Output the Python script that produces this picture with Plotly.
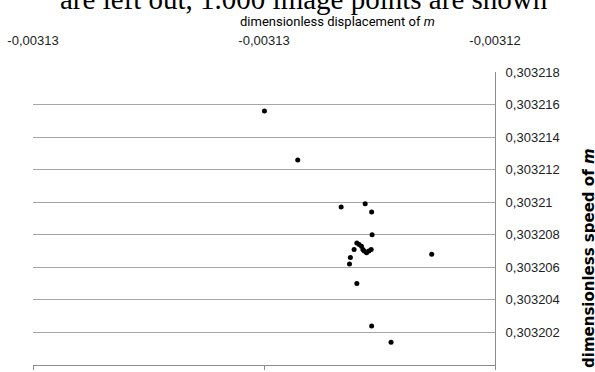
import plotly.graph_objects as go

# data (dimensionless displacement, dimensionless speed)
disp = [-0.00312499, -0.00312427, -0.00312333, -0.00312281, -0.00312267,
        -0.00312266, -0.00312137, -0.00312313, -0.00312315, -0.00312305,
        -0.00312299, -0.00312294, -0.00312289, -0.00312286, -0.00312283,
        -0.00312278, -0.00312273, -0.00312268, -0.00312299, -0.00312267,
        -0.00312225]
speed = [0.3032156, 0.3032126, 0.3032097, 0.3032099, 0.3032094,
         0.3032080, 0.3032068, 0.3032066, 0.3032062, 0.3032071,
         0.3032075, 0.3032074, 0.3032073, 0.3032071, 0.3032070,
         0.3032069, 0.3032070, 0.3032071, 0.3032050, 0.3032024,
         0.3032014]

x_tickvals = [-0.00313, -0.003125, -0.00312]
x_ticktext = ["-0,00313", "-0,00313", "-0,00312"]
y_tickvals = [0.3032, 0.303202, 0.303204, 0.303206, 0.303208,
              0.30321, 0.303212, 0.303214, 0.303216, 0.303218]
y_ticktext = ["0,3032", "0,303202", "0,303204", "0,303206", "0,303208",
              "0,30321", "0,303212", "0,303214", "0,303216", "0,303218"]

title_text = "are left out, 1.000 image points are shown"
x_title = "dimensionless displacement of <i>m</i>"
y_title = "dimensionless speed of <i>m</i>"

GRID = "#a6a6a6"
AXIS = "#8c8c8c"

fig = go.Figure()
fig.add_trace(go.Scatter(
    x=disp, y=speed, mode="markers",
    marker=dict(color="black", size=5, symbol="circle"),
    showlegend=False, cliponaxis=False,
))
# invisible trace to enable the bottom axis
fig.add_trace(go.Scatter(x=[disp[0]], y=[speed[0]], xaxis="x2", mode="markers",
                         marker=dict(opacity=0), showlegend=False, hoverinfo="skip"))

fig.update_layout(
    width=595, height=372,
    margin=dict(l=33, r=100, t=72, b=3),
    paper_bgcolor="white", plot_bgcolor="white",
    font=dict(family="Liberation Sans, Arial, sans-serif", size=13, color="#222"),
    xaxis=dict(
        range=[-0.00313, -0.00312], side="top",
        tickvals=x_tickvals, ticktext=x_ticktext,
        showgrid=False, zeroline=False, showline=False, ticks="",
        ticklabelstandoff=23,
        tickfont=dict(family="Liberation Sans, Arial", size=13, color="#222"),
    ),
    xaxis2=dict(
        range=[-0.00313, -0.00312], overlaying="x", side="bottom", anchor="y",
        tickvals=x_tickvals, showticklabels=False,
        showgrid=False, zeroline=False, showline=True, linecolor=AXIS, linewidth=1,
        ticks="outside", ticklen=4, tickcolor=AXIS,
    ),
    yaxis=dict(
        range=[0.3032, 0.303218], side="right",
        tickvals=y_tickvals, ticktext=y_ticktext,
        showgrid=True, gridcolor=GRID, gridwidth=1,
        zeroline=False, showline=True, linecolor=AXIS, linewidth=1,
        ticks="", ticklabelstandoff=7,
        tickfont=dict(family="Liberation Sans, Arial", size=13, color="#222"),
    ),
    annotations=[
        dict(text=title_text, xref="paper", yref="paper", x=0.586, y=1.2495,
             xanchor="center", yanchor="middle", showarrow=False,
             font=dict(family="Liberation Serif, Times New Roman, serif", size=29, color="black")),
        dict(text=x_title, xref="paper", yref="paper", x=0.660, y=1.1734,
             xanchor="center", yanchor="middle", showarrow=False,
             font=dict(family="Roboto, sans-serif", size=13, color="black")),
        dict(text=y_title, xref="paper", yref="paper", x=1.2035, y=0.362,
             xanchor="center", yanchor="middle", showarrow=False, textangle=-90,
             font=dict(family="DejaVu Sans, sans-serif", size=15, color="black", weight="bold")),
    ],
)

fig.write_html("out.html")
